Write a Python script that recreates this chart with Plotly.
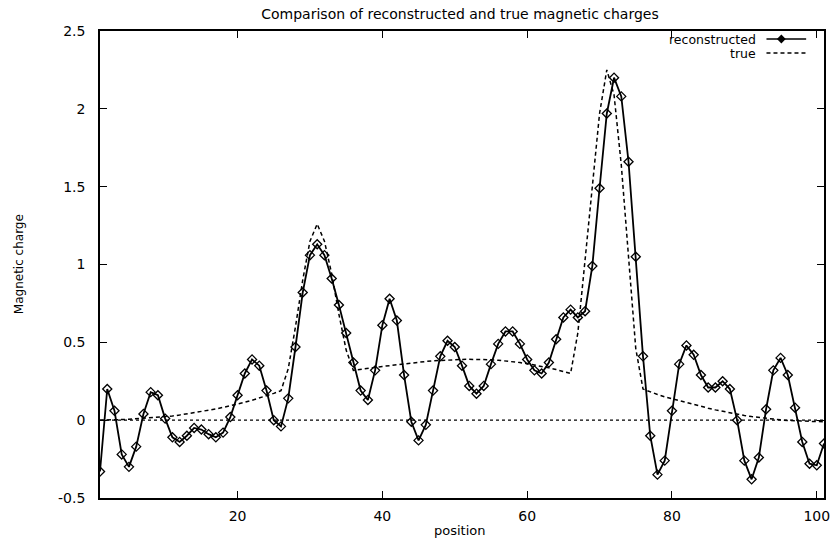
import plotly.graph_objects as go

position = list(range(1, 102))

reconstructed = [
    -0.33, 0.20, 0.06, -0.22, -0.30, -0.17, 0.04, 0.18, 0.16, 0.01,
    -0.11, -0.14, -0.10, -0.05, -0.06, -0.09, -0.11, -0.08, 0.02, 0.16,
    0.30, 0.39, 0.35, 0.19, 0.00, -0.04, 0.14, 0.47, 0.82, 1.06,
    1.13, 1.06, 0.91, 0.74, 0.56, 0.37, 0.19, 0.13, 0.32, 0.61,
    0.78, 0.64, 0.29, -0.01, -0.13, -0.03, 0.19, 0.41, 0.51, 0.47,
    0.35, 0.22, 0.17, 0.22, 0.36, 0.49, 0.57, 0.57, 0.49, 0.39,
    0.32, 0.30, 0.37, 0.52, 0.66, 0.71, 0.66, 0.70, 0.99, 1.49,
    1.97, 2.20, 2.08, 1.66, 1.05, 0.41, -0.10, -0.35, -0.26, 0.06,
    0.36, 0.48, 0.42, 0.29, 0.21, 0.21, 0.25, 0.20, 0.00, -0.26,
    -0.38, -0.24, 0.07, 0.32, 0.40, 0.29, 0.08, -0.14, -0.28, -0.29,
    -0.15,
]

true_charge = [
    0.000, 0.000, 0.002, 0.004, 0.006, 0.009, 0.012, 0.015, 0.018, 0.022,
    0.027, 0.033, 0.040, 0.047, 0.055, 0.063, 0.072, 0.082, 0.092, 0.103,
    0.115, 0.128, 0.142, 0.157, 0.172, 0.190, 0.330, 0.600, 0.900, 1.150,
    1.260, 1.150, 0.940, 0.680, 0.450, 0.320, 0.325, 0.332, 0.339, 0.345,
    0.351, 0.357, 0.363, 0.368, 0.373, 0.377, 0.381, 0.384, 0.387, 0.389,
    0.390, 0.391, 0.391, 0.390, 0.388, 0.385, 0.381, 0.376, 0.370, 0.363,
    0.355, 0.346, 0.336, 0.325, 0.313, 0.300, 0.560, 1.020, 1.500, 1.970,
    2.250, 2.090, 1.640, 1.020, 0.460, 0.200, 0.180, 0.165, 0.150, 0.137,
    0.124, 0.112, 0.100, 0.088, 0.077, 0.066, 0.056, 0.047, 0.038, 0.030,
    0.023, 0.017, 0.011, 0.006, 0.002, -0.002, -0.005, -0.007, -0.008, -0.009,
    -0.010,
]

x_ticks = [20, 40, 60, 80, 100]
x_tick_labels = ["20", "40", "60", "80", "100"]
y_ticks = [-0.5, 0, 0.5, 1, 1.5, 2, 2.5]
y_tick_labels = ["-0.5", "0", "0.5", "1", "1.5", "2", "2.5"]

W, H = 840, 545
L, R, T, B = 100, 10, 31, 47
PW, PH = W - L - R, H - T - B

def px(x):
    return (x - L) / PW

def py(y):
    return (H - B - y) / PH

FONT = "DejaVu Sans, Liberation Sans, Arial, sans-serif"

fig = go.Figure()

fig.add_trace(go.Scatter(
    x=position, y=true_charge, mode="lines", name="true",
    line=dict(color="black", width=1.5, dash="4px,3px"),
    showlegend=False,
))
fig.add_trace(go.Scatter(
    x=position, y=reconstructed, mode="lines+markers", name="reconstructed",
    line=dict(color="black", width=1.8),
    marker=dict(symbol="diamond-open", size=7, color="black", line=dict(width=1.3, color="black")),
    showlegend=False,
))

shapes = [
    # zero axis (dotted)
    dict(type="line", xref="paper", yref="y", x0=0, x1=1, y0=0, y1=0,
         line=dict(color="black", width=1.2, dash="dot"), layer="below"),
]

# custom gnuplot-style legend (text, then sample)
leg_rows = [("reconstructed", 39, "solid"), ("true", 53, "4px,3px")]
annotations = []
for label, yrow, dash in leg_rows:
    annotations.append(dict(
        text=label, xref="paper", yref="paper", x=px(763), y=py(yrow),
        xanchor="right", yanchor="middle", showarrow=False,
        font=dict(family=FONT, size=12.5, color="black"),
    ))
    shapes.append(dict(type="line", xref="paper", yref="paper",
                       x0=px(772), x1=px(812), y0=py(yrow), y1=py(yrow),
                       line=dict(color="black", width=1.6 if dash == "solid" else 1.4, dash=dash)))
# diamond marker on legend sample
cx, cy, d = 787, 39, 3.5
shapes.append(dict(type="path", xref="paper", yref="paper",
                   path=f"M {px(cx-d)},{py(cy)} L {px(cx)},{py(cy-d)} L {px(cx+d)},{py(cy)} L {px(cx)},{py(cy+d)} Z",
                   line=dict(color="black", width=1.3), fillcolor="black"))

annotations.append(dict(
    text="Magnetic charge", xref="paper", yref="paper", x=px(18), y=0.5,
    xanchor="center", yanchor="middle", textangle=-90, showarrow=False,
    font=dict(family=FONT, size=12, color="black"),
))
annotations.append(dict(
    text="position", xref="paper", yref="paper", x=px(463), y=py(530),
    xanchor="center", yanchor="middle", showarrow=False,
    font=dict(family=FONT, size=13, color="black"),
))

fig.update_layout(
    width=W, height=H,
    margin=dict(l=L, r=R, t=T, b=B, pad=0),
    paper_bgcolor="white", plot_bgcolor="white",
    font=dict(family=FONT, size=13, color="black"),
    title=dict(text="Comparison of reconstructed and true magnetic charges",
               x=px(463), xref="paper", xanchor="center",
               y=1 - 14 / H, yref="container", yanchor="middle",
               font=dict(family=FONT, size=14, color="black")),
    xaxis=dict(range=[1, 101], tickvals=x_ticks, ticktext=x_tick_labels,
               ticks="inside", ticklen=7, tickwidth=1.2, tickcolor="black",
               showline=True, linecolor="black", linewidth=1.6, mirror="ticks",
               showgrid=False, zeroline=False, ticklabelstandoff=4,
               tickfont=dict(family=FONT, size=14, color="black")),
    yaxis=dict(range=[-0.5, 2.5], tickvals=y_ticks, ticktext=y_tick_labels,
               ticks="inside", ticklen=7, tickwidth=1.2, tickcolor="black",
               showline=True, linecolor="black", linewidth=1.6, mirror="ticks",
               showgrid=False, zeroline=False, ticklabelstandoff=10,
               tickfont=dict(family=FONT, size=14, color="black")),
    shapes=shapes,
    annotations=annotations,
)

fig.write_html("out.html")
